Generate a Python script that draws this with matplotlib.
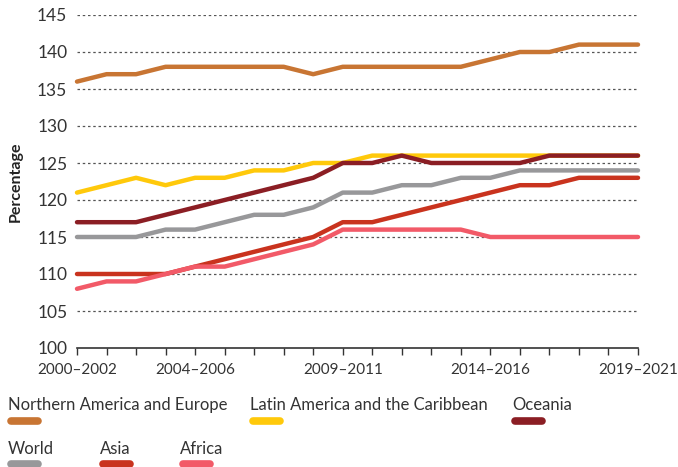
import matplotlib
matplotlib.use("Agg")
import matplotlib.pyplot as plt
from matplotlib.lines import Line2D

# periods on the x axis (3-year averages)
periods = ["%d–%d" % (y, y + 2) for y in range(2000, 2020)]
shown_labels = {0: "2000–2002", 4: "2004–2006", 9: "2009–2011", 14: "2014–2016", 19: "2019–2021"}

north_america_europe = [136, 137, 137, 138, 138, 138, 138, 138, 137, 138, 138, 138, 138, 138, 139, 140, 140, 141, 141, 141]
latin_america = [121, 122, 123, 122, 123, 123, 124, 124, 125, 125, 126, 126, 126, 126, 126, 126, 126, 126, 126, 126]
oceania = [117, 117, 117, 118, 119, 120, 121, 122, 123, 125, 125, 126, 125, 125, 125, 125, 126, 126, 126, 126]
world = [115, 115, 115, 116, 116, 117, 118, 118, 119, 121, 121, 122, 122, 123, 123, 124, 124, 124, 124, 124]
asia = [110, 110, 110, 110, 111, 112, 113, 114, 115, 117, 117, 118, 119, 120, 121, 122, 122, 123, 123, 123]
africa = [108, 109, 109, 110, 111, 111, 112, 113, 114, 116, 116, 116, 116, 116, 115, 115, 115, 115, 115, 115]

series = [
	("Northern America and Europe", north_america_europe, "#C87533"),
	("Latin America and the Caribbean", latin_america, "#FFC90B"),
	("Oceania", oceania, "#8B1E24"),
	("World", world, "#98989A"),
	("Asia", asia, "#C9331E"),
	("Africa", africa, "#F25A68"),
]

plt.rcParams['font.family'] = ['Lato', 'DejaVu Sans']
W, H = 678, 467
fig = plt.figure(figsize=(W / 100, H / 100), dpi=100)
ax = fig.add_axes([77 / W, 1 - 348 / H, (638 - 77) / W, (348 - 15) / H])

x = list(range(len(periods)))
for name, vals, col in series:
	ax.plot(x, vals, color=col, lw=3.2, solid_capstyle='round', solid_joinstyle='round', clip_on=False)

ax.set_xlim(0, len(periods) - 1)
ax.set_ylim(100, 145)
ax.set_yticks(range(100, 146, 5))
ax.set_xticks(x)
ax.set_xticklabels([shown_labels.get(i, "") for i in x])
for yv in range(105, 146, 5):
	ax.axhline(yv, color='#555555', lw=0.9, ls=(0, (2, 2.2)), zorder=0)

for s in ['top', 'right', 'left']:
	ax.spines[s].set_visible(False)
ax.spines['bottom'].set_color('#333333')
ax.spines['bottom'].set_linewidth(1.2)
ax.tick_params(axis='y', length=0, pad=7, labelsize=12.5, labelcolor='#333333')
ax.tick_params(axis='x', length=5, width=1, color='#333333', pad=6, labelsize=11, labelcolor='#333333')
ax.set_ylabel('Percentage', fontsize=11.5, fontweight='bold', color='#222222', labelpad=10)

# legend, laid out by hand in two rows
rows = [
	[(0, 8), (1, 250), (2, 512)],
	[(3, 8), (4, 100), (5, 180)],
]
row_y = [(405, 421), (449, 464)]
for r, entries in enumerate(rows):
	ty, py = row_y[r]
	for idx, px in entries:
		name, vals, col = series[idx]
		fig.text(px / W, 1 - ty / H, name, fontsize=12, color='#333333', va='center', ha='left')
		fig.add_artist(Line2D([(px + 3) / W, (px + 30) / W], [1 - py / H, 1 - py / H],
			color=col, lw=5.5, solid_capstyle='round', transform=fig.transFigure))

fig.savefig("out.png", dpi=100)
